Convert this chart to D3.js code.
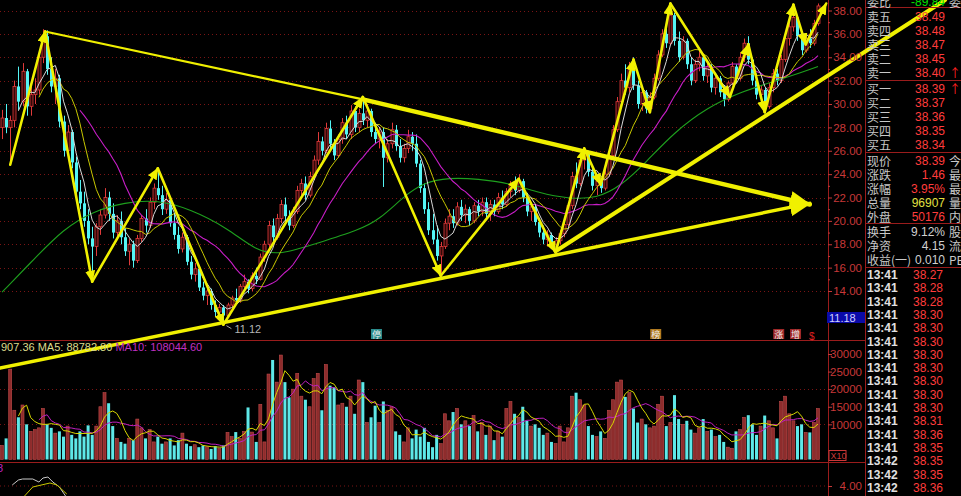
<!DOCTYPE html>
<html><head><meta charset="utf-8">
<script src="https://cdn.jsdelivr.net/npm/d3@7"></script>
<style>html,body{margin:0;padding:0;background:#000;overflow:hidden}svg{display:block}</style>
</head><body><svg id="c" width="961" height="496"></svg>
<script>
// ---------- DATA ----------
const ohlc = [
[28.0,29.5,27.0,28.8],[28.8,30.0,27.5,28.0],[28.0,29.0,25.0,28.6],[28.6,32.0,28.0,31.5],[31.5,33.2,29.5,30.2],
[30.2,33.5,29.8,32.8],[32.8,33.0,29.0,29.8],[29.8,31.5,29.0,30.8],[30.8,32.2,30.0,31.2],[31.2,34.5,30.8,34.0],
[34.0,36.4,33.5,35.8],[35.8,36.3,32.5,33.0],[33.0,34.0,31.0,31.5],[31.5,33.0,30.0,32.2],[32.2,32.5,28.0,28.5],
[28.5,29.0,25.5,26.0],[26.0,28.2,25.5,27.6],[27.6,27.8,24.5,25.0],[25.0,25.5,22.0,22.5],[22.5,23.5,21.0,21.5],
[21.5,22.5,19.5,20.0],[20.0,21.0,18.0,18.5],[18.5,19.5,14.8,17.8],[17.8,19.8,17.0,19.5],[19.5,21.0,18.8,20.5],
[20.5,22.8,20.2,22.0],[22.0,22.5,20.0,20.6],[20.6,21.5,18.5,19.0],[19.0,20.5,18.4,20.0],[20.0,20.8,18.0,18.6],
[18.6,19.4,17.0,17.4],[17.4,18.5,16.2,18.0],[18.0,18.3,16.0,16.6],[16.6,18.8,16.4,18.5],[18.5,20.5,18.2,20.2],
[20.2,21.0,19.0,19.6],[19.6,22.0,19.4,21.6],[21.6,23.2,21.0,22.8],[22.8,24.5,21.8,22.2],[22.2,23.0,20.5,21.0],
[21.0,22.4,20.6,21.8],[21.8,22.0,19.5,19.8],[19.8,20.6,18.4,18.8],[18.8,19.5,17.2,17.6],[17.6,19.0,17.3,18.6],
[18.6,18.8,16.2,16.5],[16.5,17.0,15.0,15.4],[15.4,16.4,14.8,15.9],[15.9,16.1,14.0,14.3],[14.3,14.8,13.2,13.6],
[13.6,14.4,12.8,14.0],[14.0,14.2,12.4,12.8],[12.8,13.2,11.8,12.2],[12.2,12.9,11.6,12.6],[12.6,12.8,11.12,11.9],
[11.9,13.0,11.7,12.8],[12.8,13.6,12.3,13.4],[13.4,14.2,12.9,13.2],[13.2,14.6,13.0,14.4],[14.4,15.4,14.0,14.8],
[14.8,15.0,13.8,14.2],[14.2,15.6,14.0,15.3],[15.3,16.0,14.6,15.0],[15.0,17.2,14.9,16.9],[16.9,18.3,16.5,18.0],
[18.0,20.0,17.6,19.6],[19.6,20.2,18.2,18.6],[18.6,20.6,18.4,20.2],[20.2,21.8,19.8,21.4],[21.4,22.0,20.0,20.4],
[20.4,20.9,19.2,19.6],[19.6,21.2,19.4,20.8],[20.8,23.0,20.6,22.6],[22.6,23.6,22.2,23.2],[23.2,23.8,21.8,22.2],
[22.2,24.2,22.0,23.8],[23.8,25.6,23.5,25.2],[25.2,27.6,24.8,26.8],[26.8,27.2,25.6,26.0],[26.0,28.4,25.8,27.9],
[27.9,28.6,26.2,26.6],[26.6,27.0,25.2,25.6],[25.6,27.4,25.4,27.0],[27.0,28.8,26.6,28.4],[28.4,29.0,27.0,27.4],
[27.4,29.9,27.0,29.4],[29.4,29.8,27.6,28.0],[28.0,29.6,27.6,29.2],[29.2,30.6,28.2,28.6],[28.6,30.0,28.0,29.4],
[29.4,29.6,27.2,27.6],[27.6,28.4,26.6,27.0],[27.0,28.0,26.2,27.6],[27.6,28.0,22.9,25.4],[25.4,27.0,25.0,26.6],
[26.6,28.4,26.2,27.8],[27.8,28.2,26.0,26.4],[26.4,27.0,25.0,25.4],[25.4,26.6,25.0,26.2],[26.2,27.8,25.8,27.2],
[27.2,27.6,26.0,26.6],[26.6,27.4,24.6,24.9],[24.9,25.2,22.4,22.8],[22.8,23.2,20.6,21.0],[21.0,21.6,18.8,19.2],
[19.2,20.6,18.0,18.4],[18.4,19.6,16.6,17.0],[17.0,18.2,15.4,17.8],[17.8,20.2,17.6,19.8],[19.8,21.0,19.2,20.4],
[20.4,21.0,19.4,19.8],[19.8,21.6,19.6,21.2],[21.2,21.8,20.0,20.5],[20.5,21.4,19.8,21.0],[21.0,21.2,19.6,20.0],
[20.0,21.6,19.8,21.3],[21.3,21.8,20.4,20.8],[20.8,22.0,20.4,21.6],[21.6,22.0,20.2,20.6],[20.6,21.8,20.0,21.4],
[21.4,21.8,20.4,20.8],[20.8,22.4,20.6,22.0],[22.0,22.6,21.0,21.4],[21.4,22.8,21.2,22.5],[22.5,23.4,22.0,23.0],
[23.0,23.8,22.2,22.6],[22.6,24.0,22.4,23.4],[23.4,23.6,21.6,22.0],[22.0,22.4,20.4,20.8],[20.8,21.6,20.0,21.2],
[21.2,21.4,19.6,19.9],[19.9,20.2,18.6,19.0],[19.0,19.6,18.0,18.4],[18.4,19.2,17.8,18.8],[18.8,19.0,17.6,18.0],
[18.0,18.6,17.2,18.3],[18.3,19.2,18.0,18.9],[18.9,20.0,18.6,19.7],[19.7,21.6,19.5,21.3],[21.3,24.2,21.0,23.8],
[23.8,25.0,22.8,23.2],[23.2,25.6,23.0,25.2],[25.2,26.3,24.4,25.8],[25.8,26.0,23.8,24.2],[24.2,24.6,22.6,23.0],
[23.0,23.8,22.2,23.4],[23.4,23.6,22.4,22.8],[22.8,24.4,22.6,24.0],[24.0,26.0,23.8,25.6],[25.6,28.2,25.4,27.8],
[27.8,30.6,27.6,30.2],[30.2,32.6,29.6,32.0],[32.0,33.4,30.8,31.4],[31.4,33.6,31.0,33.0],[33.0,34.0,31.2,31.6],
[31.6,32.0,29.6,30.0],[30.0,31.4,29.4,31.0],[31.0,31.2,29.2,29.6],[29.6,31.0,29.3,30.6],[30.6,32.6,30.4,32.2],
[32.2,34.6,32.0,34.2],[34.2,36.4,34.0,36.0],[36.0,36.8,34.8,35.2],[35.2,38.6,35.0,37.6],[37.6,37.8,35.0,35.4],
[35.4,36.2,33.6,34.0],[34.0,35.8,33.8,35.4],[35.4,35.6,33.0,33.4],[33.4,34.0,31.6,32.0],[32.0,33.8,31.8,33.4],
[33.4,34.6,32.8,34.0],[34.0,34.2,32.0,32.4],[32.4,33.6,31.8,33.2],[33.2,33.4,31.0,31.4],[31.4,32.6,30.8,32.2],
[32.2,32.4,30.6,31.0],[31.0,31.6,29.8,30.4],[30.4,32.0,30.2,31.8],[31.8,33.6,31.6,33.2],[33.2,33.4,31.8,32.2],
[32.2,34.4,32.0,34.0],[34.0,35.6,33.6,35.2],[35.2,35.8,33.4,33.8],[33.8,34.0,31.6,32.0],[32.0,32.6,30.4,30.8],
[30.8,31.6,29.8,31.2],[31.2,31.4,29.2,29.8],[29.8,31.8,29.6,31.4],[31.4,33.0,31.0,32.6],[32.6,33.0,31.6,32.0],
[32.0,34.2,31.8,33.8],[33.8,36.0,33.6,35.6],[35.6,37.0,35.0,36.6],[36.6,38.5,36.2,37.4],[37.4,37.6,35.4,35.8],
[35.8,36.2,34.2,34.6],[34.6,36.0,34.4,35.6],[35.6,36.4,34.8,35.2],[35.2,37.2,35.0,36.9],[36.9,38.6,36.7,38.39]
];
const volumes = [
4000,6000,25700,14000,12000,15500,10000,8000,8500,9000,
14500,10000,9000,7500,8000,6500,9500,7000,6000,8000,
6500,9700,7000,9500,15000,19000,16000,9500,6000,5000,
4500,6000,5500,11500,9000,6000,8500,5000,6500,4500,
5000,6000,4000,5500,7500,4500,3800,4200,3500,4000,
3600,3000,3800,3200,4000,7700,6500,7800,6000,8000,
14800,7800,5000,15700,5000,24300,28300,22000,29700,22000,
17700,20000,24500,18000,17000,15000,23000,24500,14000,27000,
21000,20500,15500,16000,15000,18000,13000,22600,22000,10500,
12000,15300,10500,16500,14000,15000,8000,7000,5000,9000,
6000,8500,6500,9000,5000,3500,7000,4500,13000,11000,
13500,14500,10000,11000,9500,12500,8000,10500,7000,9500,
5500,8000,6500,14500,16500,13000,12000,15000,11000,9500,
10000,9000,7000,7500,5000,4500,9500,5000,9000,18000,
19000,17000,15500,9500,7000,6500,8000,6000,14000,17000,
22000,22600,17800,19000,14500,10500,11500,10000,9000,9500,
15700,18000,9500,10500,18300,11500,10000,11000,8500,7500,
9000,11500,8000,8500,6500,7000,5000,3500,3200,8000,
8500,12000,12600,10000,7000,9500,12500,11000,9000,6000,
16500,18000,13000,11000,9500,10000,7700,7700,10500,14500
];
const ma60Points = [[0,13.9],[8,16.8],[15,19.3],[22,20.8],[30,21.6],[38,21.8],[46,21.0],[55,19.4],[62,17.4],[68,17.1],[76,18.0],[87,19.2],[92,20.1],[98,22.1],[103,23.3],[109,23.7],[116,23.6],[124,23.2],[131,22.4],[138,21.9],[145,21.9],[151,23.0],[157,25.0],[164,27.6],[172,29.7],[180,31.0],[188,31.9],[195,32.7],[199,33.2]];
const zigzag = [[2,24.8],[10.5,36.2],[22,14.8],[38,24.5],[54,11.12],[88,30.6],[107,15.3],[126,23.6],[135,17.3],[142,26.2],[146,23.1],[154,33.8],[158,29.3],[163,38.6],[177.5,30.6],[182,35.1],[186,29.3],[193,38.5],[196,35.1],[201,38.6]];
const trendUpperThin = [[10.5,36.2],[88,30.4]];
const trendUpperThick = [[88,30.4],[197,21.4]];
const trendLower = [[-0.5,7.4],[197,21.5]];
const trendRise = [[135,17.4],[230,38.9]];
const indWhite = [[2.5,4.1],[4,4.6],[5,4.7],[7.5,4.7],[9,4.4],[10,4.8],[11.2,4.9],[12.4,4.4],[14,3.9],[15.5,3.0]];
const indYellow = [[5.5,3.0],[7.5,3.9],[11.7,4.3],[13.4,4.1],[15.8,3.2]];
const priceTicks = [14,16,18,20,22,24,26,28,30,32,34,36,38];
const volTicks = [10000,15000,20000,25000,30000];
const sellLabels = ["卖五","卖四","卖三","卖二","卖一"];
const sellPrices = ["38.49","38.48","38.47","38.45","38.40"];
const buyLabels = ["买一","买二","买三","买四","买五"];
const buyPrices = ["38.39","38.37","38.36","38.35","38.34"];
const quoteLabels = ["现价","涨跌","涨幅","总量","外盘"];
const quoteValues = ["38.39","1.46","3.95%","96907","50176"];
const quoteTail = ["今","最","最","量","内"];
const infoLabels = ["换手","净资","收益(一)"];
const infoValues = ["9.12%","4.15","0.010"];
const infoTail = ["股","流","PE"];
const tickTimes = ["13:41","13:41","13:41","13:41","13:41","13:41","13:41","13:41","13:41","13:41","13:41","13:41","13:41","13:41","13:42","13:42","13:42"];
const tickPrices = ["38.27","38.28","38.28","38.30","38.30","38.30","38.30","38.30","38.30","38.30","38.30","38.31","38.36","38.35","38.35","38.35","38.36"];
const flags = [{i:91.2,t:"停",c:"#2b8c8c"},{i:159.3,t:"榜",c:"#b07a20"},{i:189.3,t:"涨",c:"#a02828"},{i:193.4,t:"增",c:"#a02828"}];

// ---------- SCALES ----------
const svg = d3.select("#c");
const W = 961, H = 496;
svg.append("rect").attr("width",W).attr("height",H).attr("fill","#000");
const x = d3.scaleLinear().domain([0,199]).range([2,818]);
const yP = d3.scaleLinear().domain([14,38]).range([291,10.5]);
const yV = d3.scaleLinear().domain([0,30000]).range([459.5,354]);
const yK = d3.scaleLinear().domain([4,6]).range([486,466]);
const AX = "#c83838";
const cn = "'Noto Sans CJK SC','Noto Sans',sans-serif";
const num = "'Liberation Sans',Arial,sans-serif";

// ---------- GRID ----------
const g = svg.append("g");
g.selectAll(".pg").data(priceTicks).join("line")
  .attr("x1",0).attr("x2",828).attr("y1",d=>Math.round(yP(d))+0.5).attr("y2",d=>Math.round(yP(d))+0.5)
  .attr("stroke","#7a1414").attr("stroke-dasharray","1,3");
g.selectAll(".vg").data([10000,20000]).join("line")
  .attr("x1",0).attr("x2",828).attr("y1",d=>Math.round(yV(d))+0.5).attr("y2",d=>Math.round(yV(d))+0.5)
  .attr("stroke","#7a1414").attr("stroke-dasharray","1,3");
g.append("line").attr("x1",0).attr("x2",828).attr("y1",yK(4)).attr("y2",yK(4)).attr("stroke","#7a1414").attr("stroke-dasharray","1,3");

const bord = svg.append("g").attr("stroke","#9a1c1c").attr("stroke-width",1);
bord.append("line").attr("x1",0).attr("x2",866).attr("y1",340.5).attr("y2",340.5);
bord.append("line").attr("x1",0).attr("x2",866).attr("y1",462.5).attr("y2",462.5);
bord.append("line").attr("x1",828.5).attr("x2",828.5).attr("y1",0).attr("y2",H);
bord.append("line").attr("x1",865.5).attr("x2",865.5).attr("y1",0).attr("y2",H);

// ---------- VOLUME ----------
const isUp = i => ohlc[i][3] >= ohlc[i][0];
const vg = svg.append("g");
vg.selectAll("rect").data(volumes).join("rect")
  .attr("x",(d,i)=>x(i)-1.5).attr("width",3)
  .attr("y",d=>yV(d)).attr("height",d=>yV(0)-yV(d))
  .attr("fill",(d,i)=>isUp(i)?"#8e2c2c":"#5ee8e8")
  .attr("stroke",(d,i)=>isUp(i)?"#c04a4a":"none").attr("stroke-width",0.6);
function movAvg(arr,n){return arr.map((d,i)=> i<n-1?null:d3.mean(arr.slice(i-n+1,i+1)));}
const vma5 = movAvg(volumes,5), vma10 = movAvg(volumes,10);
const vline = d3.line().defined(d=>d!=null).x((d,i)=>x(i)).y(d=>yV(d));
vg.append("path").attr("d",vline(vma10)).attr("fill","none").attr("stroke","#c020c0").attr("stroke-width",1);
vg.append("path").attr("d",vline(vma5)).attr("fill","none").attr("stroke","#d8d800").attr("stroke-width",1);

// ---------- CANDLES ----------
const cg = svg.append("g");
ohlc.forEach((c,i)=>{
  const up = c[3]>=c[0];
  const col = up?"#e03a3a":"#54f4f4";
  const cx = Math.round(x(i))+0.5;
  cg.append("line").attr("x1",cx).attr("x2",cx).attr("y1",yP(c[1])).attr("y2",yP(c[2])).attr("stroke",col).attr("stroke-width",1);
  const top = yP(Math.max(c[0],c[3])), bot = yP(Math.min(c[0],c[3]));
  cg.append("rect").attr("x",cx-1.5).attr("width",3).attr("y",top).attr("height",Math.max(1,bot-top))
    .attr("fill",up?"#300808":col).attr("stroke",col).attr("stroke-width",up?0.8:0);
});

// ---------- PRICE MAs ----------
const closes = ohlc.map(d=>d[3]);
const pline = d3.line().defined(d=>d!=null).x((d,i)=>x(i)).y(d=>yP(d));
const ma5 = movAvg(closes,5), ma10 = movAvg(closes,10), ma20 = movAvg(closes,20);
const mg = svg.append("g").attr("fill","none");
mg.append("path").attr("d",d3.line().curve(d3.curveBasis).x(d=>x(d[0])).y(d=>yP(d[1]))(ma60Points)).attr("stroke","#1ea01e").attr("stroke-width",1.1);
mg.append("path").attr("d",pline(ma20)).attr("stroke","#c81ec8").attr("stroke-width",1.1);
mg.append("path").attr("d",pline(ma10)).attr("stroke","#c8c800").attr("stroke-width",1);
mg.append("path").attr("d",pline(ma5)).attr("stroke","#d8d8d8").attr("stroke-width",1);

// ---------- TREND LINES & ZIGZAG ----------
const defs = svg.append("defs");
defs.append("marker").attr("id","ah").attr("markerUnits","userSpaceOnUse")
  .attr("markerWidth",12).attr("markerHeight",10).attr("refX",11).attr("refY",5).attr("orient","auto")
  .append("path").attr("d","M0,0 L12,5 L0,10 Z").attr("fill","#f0f000");
defs.append("marker").attr("id","big").attr("markerUnits","userSpaceOnUse")
  .attr("markerWidth",22).attr("markerHeight",18).attr("refX",20).attr("refY",9).attr("orient","auto")
  .append("path").attr("d","M0,0 L22,9 L0,18 Z").attr("fill","#f0f000");
const tg = svg.append("g").attr("stroke","#f0f000").attr("fill","none").attr("stroke-linecap","round");
const seg = (a,b,w,mk)=>{const l=tg.append("line").attr("x1",x(a[0])).attr("y1",yP(a[1])).attr("x2",x(b[0])).attr("y2",yP(b[1])).attr("stroke-width",w); if(mk) l.attr("marker-end",`url(#${mk})`); return l;};
seg(trendUpperThin[0],trendUpperThin[1],2.2);
seg(trendUpperThick[0],trendUpperThick[1],4.5,"big");
seg(trendLower[0],trendLower[1],3.5,"big");
seg(trendRise[0],trendRise[1],4);
for(let k=0;k<zigzag.length-1;k++) seg(zigzag[k],zigzag[k+1],2.6,"ah");

// ---------- BOTTOM INDICATOR ----------
const kl = d3.line().x(d=>x(d[0])).y(d=>yK(d[1]));
svg.append("path").attr("d",kl(indWhite)).attr("fill","none").attr("stroke","#c8c8c8").attr("stroke-width",1);
svg.append("path").attr("d",kl(indYellow)).attr("fill","none").attr("stroke","#c8c800").attr("stroke-width",1);
svg.append("text").attr("x",-3).attr("y",472).attr("fill","#c020c0").attr("font-family",num).attr("font-size",11).text("8");

// ---------- LABELS ON CHART ----------
const low = ohlc[54];
svg.append("line").attr("x1",x(54)+3).attr("y1",yP(low[2])+1).attr("x2",x(54)+8).attr("y2",yP(low[2])+4).attr("stroke","#aaa");
svg.append("text").attr("x",x(54)+11).attr("y",yP(low[2])+8).attr("fill","#b4b4b4").attr("font-family",num).attr("font-size",11).text("11.12");
const fg = svg.append("g");
flags.forEach(f=>{
  fg.append("rect").attr("x",x(f.i)-5).attr("y",329).attr("width",11).attr("height",10).attr("fill",f.c);
  fg.append("text").attr("x",x(f.i)+0.5).attr("y",338).attr("text-anchor","middle").attr("fill","#f0f0f0").attr("font-family",cn).attr("font-size",9).text(f.t);
});
svg.append("text").attr("x",x(196.8)).attr("y",340).attr("fill","#e02020").attr("font-family",num).attr("font-size",10).text("$");

const lg = svg.append("text").attr("x",1).attr("y",351).attr("font-family",num).attr("font-size",11);
lg.append("tspan").attr("fill","#dcdc8c").text("907.36 MA5: 88782.80 ");
lg.append("tspan").attr("fill","#c030c0").text("MA10: 108044.60");

// ---------- AXES ----------
function styleAxis(sel){sel.select(".domain").remove(); sel.selectAll("line").attr("stroke",AX);
  sel.selectAll("text").attr("x",34).attr("text-anchor","end").attr("fill",AX).attr("font-family",num).attr("font-size",11.5);}
svg.append("g").attr("transform","translate(828,0)")
  .call(d3.axisRight(yP).tickValues(priceTicks).tickSize(4).tickFormat(d3.format(".2f"))).call(styleAxis);
svg.append("g").attr("transform","translate(828,0)")
  .call(d3.axisRight(yP).tickValues(d3.range(15,38,2)).tickSize(2).tickFormat("")).call(styleAxis);
svg.append("g").attr("transform","translate(828,0)")
  .call(d3.axisRight(yV).tickValues(volTicks).tickSize(4).tickFormat(d3.format("d"))).call(styleAxis);
svg.append("g").attr("transform","translate(828,0)")
  .call(d3.axisRight(yK).tickValues([4]).tickSize(4).tickFormat(d3.format(".2f"))).call(styleAxis);
svg.append("rect").attr("x",829).attr("y",450.5).attr("width",17).attr("height",10).attr("fill","none").attr("stroke",AX);
svg.append("text").attr("x",830.5).attr("y",459).attr("fill",AX).attr("font-family",num).attr("font-size",9).text("X10");
svg.append("rect").attr("x",827).attr("y",312).attr("width",38).attr("height",11).attr("fill","#0a0aa8");
svg.append("text").attr("x",829).attr("y",321.5).attr("fill","#d0d0ff").attr("font-family",num).attr("font-size",11).text("11.18");

// ---------- RIGHT PANEL ----------
const rp = svg.append("g");
const rl = rp.append("g").attr("stroke","#9a1c1c");
[7.5,80.5,152.5,223.5,267.5].forEach(yy=>rl.append("line").attr("x1",866).attr("x2",W).attr("y1",yy).attr("y2",yy));
function row(y,label,val,valCol,tail,tailCol){
  rp.append("text").attr("x",867).attr("y",y).attr("dominant-baseline","central").attr("fill","#c8c8c8").attr("font-family",cn).attr("font-size",12).text(label);
  rp.append("text").attr("x",945).attr("y",y+0.5).attr("dominant-baseline","central").attr("text-anchor","end").attr("fill",valCol).attr("font-family",num).attr("font-size",12).text(val);
  if(tail) rp.append("text").attr("x",949).attr("y",y).attr("dominant-baseline","central").attr("fill",tailCol||"#c8c8c8").attr("font-family",cn).attr("font-size",12).text(tail);
}
row(1,"委比","-89.84","#00e000","委");
const sellY=[16,30,44,58,72], buyY=[88,102,116,130,144];
sellLabels.forEach((l,k)=>row(sellY[k],l,sellPrices[k],"#ff3c3c",k===4?"↑":null,"#ff2020"));
buyLabels.forEach((l,k)=>row(buyY[k],l,buyPrices[k],"#ff3c3c",k===0?"↑":null,"#ff2020"));
const qY=[160,174,188,202,216];
quoteLabels.forEach((l,k)=>row(qY[k],l,quoteValues[k],k===3?"#e0e040":"#ff3c3c",quoteTail[k]));
const iY=[231,245,259];
infoLabels.forEach((l,k)=>row(iY[k],l,infoValues[k],"#d0d0d0",infoTail[k]));
tickTimes.forEach((t,k)=>{
  const yy = 275 + k*13.3;
  rp.append("text").attr("x",867).attr("y",yy).attr("dominant-baseline","central").attr("fill","#e0e0e0").attr("font-family",num).attr("font-weight","bold").attr("font-size",12).text(t);
  rp.append("text").attr("x",943).attr("y",yy).attr("dominant-baseline","central").attr("text-anchor","end").attr("fill","#ff3c3c").attr("font-family",num).attr("font-size",12).text(tickPrices[k]);
});
</script></body></html>
